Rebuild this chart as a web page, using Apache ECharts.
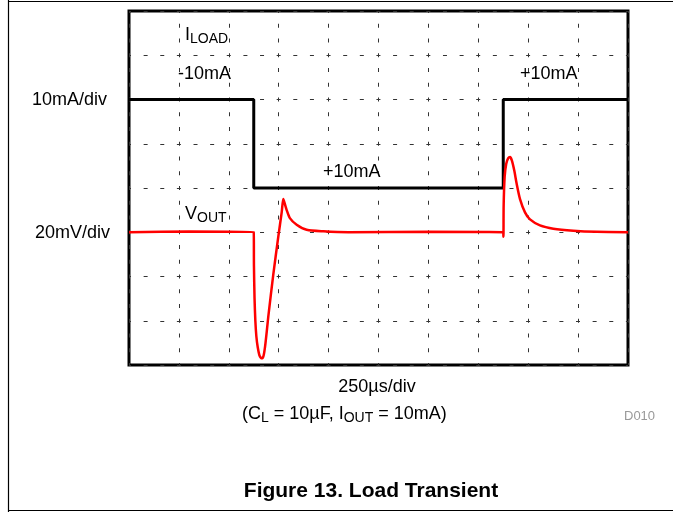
<!DOCTYPE html>
<html>
<head>
<meta charset="utf-8">
<script src="https://cdn.jsdelivr.net/npm/echarts@6/dist/echarts.min.js"></script>
<style>
html,body{margin:0;padding:0;background:#fff;}
#chart{width:673px;height:512px;}
</style>
</head>
<body>
<div id="chart"></div>
<script>
// Time axis: 250 µs/div, 10 divisions
var timeTicks = [0, 250, 500, 750, 1000, 1250, 1500, 1750, 2000, 2250, 2500];
// Load current (mA), 10 mA/div
var currentPoints = [[0, -10], [625, -10], [625, 10], [1875, 10], [1875, -10], [2500, -10]];
// Output voltage deviation (mV), 20 mV/div
var voltagePoints = [
  [0, 0], [300, 0.3], [625, 0], [626, -15], [629, -30], [633, -40], [638, -47], [645, -52],
  [653, -55.5], [661, -56.8], [668, -57], [675, -55.5], [682, -51.5], [690, -45],
  [698, -38], [723, -19], [748, -2], [765, 9], [773, 15], [780, 13],
  [790, 10], [806, 6.4], [840, 3.4], [890, 1.1], [974, 0.4], [1100, 0], [1500, 0.2],
  [1874, 0], [1876, -2], [1877, 12], [1882, 25], [1890, 31], [1900, 33.5], [1909, 34],
  [1918, 32.5], [1930, 28], [1942, 22], [1959, 15], [1984, 9], [2009, 5.8], [2059, 3.1],
  [2126, 1.6], [2226, 0.7], [2343, 0.2], [2500, 0]
];

var FONT = 'Liberation Sans, Arial, Helvetica, sans-serif';
var chart = echarts.init(document.getElementById('chart'), null, {renderer: 'canvas'});

function txt(text, x, y, size, opts) {
  opts = opts || {};
  return {
    type: 'text', z: 100,
    style: {
      text: text, x: x, y: y,
      fontSize: size, fontFamily: FONT, fontWeight: opts.bold ? 'bold' : 'normal',
      fill: opts.color || '#000',
      textAlign: opts.align || 'left', align: opts.align || 'left',
      textVerticalAlign: 'middle', verticalAlign: 'middle',
      rich: opts.rich
    }
  };
}
var subRich = {
  m: {fontSize: 18, fontFamily: FONT, fill: '#000', color: '#000'},
  s: {fontSize: 14, fontFamily: FONT, fill: '#000', color: '#000', padding: [9, 0, 0, 0]}
};

var option = {
  animation: false,
  backgroundColor: '#fff',
  grid: {left: 129, right: 45, top: 11, bottom: 147, show: true, borderColor: '#000', borderWidth: 3, backgroundColor: 'transparent'},
  xAxis: {
    type: 'value', min: timeTicks[0], max: timeTicks[timeTicks.length - 1], interval: 250,
    axisLine: {show: false}, axisTick: {show: false}, axisLabel: {show: false},
    splitLine: {show: true, lineStyle: {color: '#333', width: 1, type: [4, 10.75], dashOffset: 2}}
  },
  yAxis: [
    {
      type: 'value', inverse: true, min: -30, max: 50, interval: 10,
      axisLine: {show: false}, axisTick: {show: false}, axisLabel: {show: false},
      splitLine: {show: true, lineStyle: {color: '#333', width: 1, type: [4, 12.63], dashOffset: 2}}
    },
    {
      type: 'value', min: -60, max: 100, interval: 20,
      axisLine: {show: false}, axisTick: {show: false}, axisLabel: {show: false},
      splitLine: {show: false}
    }
  ],
  series: [
    {
      name: 'ILOAD', type: 'line', yAxisIndex: 0, data: currentPoints, symbol: 'none',
      lineStyle: {color: '#000', width: 3}, z: 3
    },
    {
      name: 'VOUT', type: 'line', yAxisIndex: 1, data: voltagePoints, symbol: 'none', smooth: 0.25,
      lineStyle: {color: '#ff0000', width: 2.5}, z: 4
    }
  ],
  graphic: [
    {type: 'line', shape: {x1: 8.5, y1: 0, x2: 8.5, y2: 512}, style: {stroke: '#000', lineWidth: 1.2}},
    {type: 'line', shape: {x1: 8, y1: 1.5, x2: 673, y2: 1.5}, style: {stroke: '#000', lineWidth: 1.2}},
    {type: 'line', shape: {x1: 8, y1: 510.5, x2: 673, y2: 510.5}, style: {stroke: '#000', lineWidth: 1.2}},
    txt('{m|I}{s|LOAD}', 185, 35, 18, {rich: subRich}),
    txt('-10mA', 178, 74, 18),
    txt('+10mA', 323, 172, 18),
    txt('+10mA', 520, 74, 18),
    txt('{m|V}{s|OUT}', 185, 214, 18, {rich: subRich}),
    txt('10mA/div', 32, 100, 18),
    txt('20mV/div', 35, 233, 18),
    txt('250µs/div', 377, 387, 18, {align: 'center'}),
    txt('{m|(C}{s|L}{m| = 10µF, I}{s|OUT}{m| = 10mA)}', 242, 414, 18, {rich: subRich}),
    txt('D010', 624, 416, 13, {color: '#999'}),
    txt('Figure 13. Load Transient', 371, 491, 21, {align: 'center', bold: true})
  ]
};
chart.setOption(option);
</script>
</body>
</html>
